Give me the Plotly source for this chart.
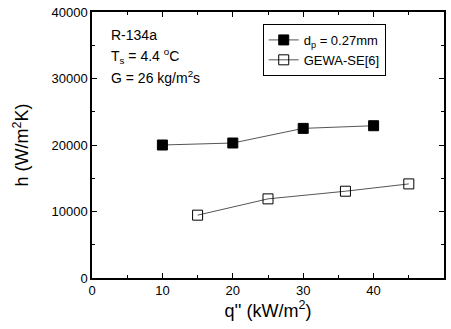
import plotly.graph_objects as go

# Heat transfer coefficient vs heat flux
q_dp = [10, 20, 30, 40]
h_dp = [20000, 20300, 22500, 22900]
q_gewa = [15, 25, 36, 45]
h_gewa = [9450, 11900, 13050, 14150]

x_ticks = [0, 10, 20, 30, 40, 50]
y_ticks = [0, 10000, 20000, 30000, 40000]

FONT = "Liberation Sans, Arial, sans-serif"

fig = go.Figure()
fig.add_trace(go.Scatter(
    x=q_dp, y=h_dp, mode="lines+markers",
    name="d<sub>p</sub> = 0.27mm",
    line=dict(color="#555555", width=1),
    marker=dict(symbol="square", size=10, color="black", line=dict(color="black", width=1)),
))
fig.add_trace(go.Scatter(
    x=q_gewa, y=h_gewa, mode="lines+markers",
    name="GEWA-SE[6]",
    line=dict(color="#555555", width=1),
    marker=dict(symbol="square-open", size=10, color="black", line=dict(color="black", width=1)),
))

axis_common = dict(
    showgrid=False, zeroline=False, showline=True, linecolor="black", linewidth=1.5,
    mirror="allticks", ticks="inside", ticklen=5, tickwidth=1, tickcolor="black",
    tickfont=dict(family=FONT, size=13, color="black"),
    minor=dict(ticks="inside", ticklen=3, tickcolor="black", tickwidth=1),
    tickformat="d",
)

fig.update_xaxes(
    range=[0, 50], tickvals=x_ticks, minor_dtick=5,
    title=dict(text="q'' (kW/m<sup>2</sup>)", font=dict(family=FONT, size=18, color="black"), standoff=2),
    **axis_common,
)
fig.update_yaxes(
    range=[0, 40000], tickvals=y_ticks, minor_dtick=5000,
    title=dict(text="h (W/m<sup>2</sup>K)", font=dict(family=FONT, size=18, color="black"), standoff=18),
    **axis_common,
)

notes = [
    ("R-134a", 36600),
    ("T<sub>s</sub> = 4.4 <sup>o</sup>C", 33400),
    ("G = 26 kg/m<sup>2</sup>s", 30300),
]
for txt, yv in notes:
    fig.add_annotation(x=2.4, y=yv, text=txt, showarrow=False, xanchor="left",
                       yanchor="middle", font=dict(family=FONT, size=14, color="black"))

fig.update_layout(
    width=451, height=329,
    margin=dict(l=92, r=7, t=12, b=51, autoexpand=False),
    plot_bgcolor="white", paper_bgcolor="white",
    legend=dict(x=0.485, y=0.955, xanchor="left", yanchor="top",
                bordercolor="black", borderwidth=1, bgcolor="white",
                font=dict(family=FONT, size=13, color="black"),
                tracegroupgap=0, itemwidth=30),
    showlegend=True,
)

fig.write_html("out.html")
